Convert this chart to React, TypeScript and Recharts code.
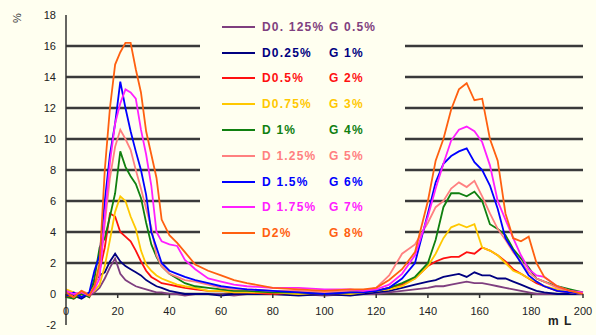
import React from 'react';
import { LineChart, Line, XAxis, YAxis, ReferenceLine } from 'recharts';

const BG = '#fffff0';

// sampling positions along the x axis (mL)
const volumes = [
  0, 3, 6, 9, 11, 13, 15, 17, 19, 21, 23, 25, 27, 29, 31, 33, 35, 37, 40, 43, 46, 50, 55, 60, 65, 70,
  80, 90, 100, 110, 115, 120, 125, 130, 135, 140, 143, 146, 149, 152, 155, 158, 161, 164, 167, 170,
  173, 176, 179, 182, 185, 190, 195, 200,
];

const d0125 = [
  0.0, -0.1, 0.0, -0.1, 0.1, 0.4, 1.0, 1.7, 2.3, 1.3, 0.9, 0.7, 0.5, 0.4, 0.3, 0.2, 0.1, 0.1, 0.0, 0.0, -0.1, 0.0, 0.0, 0.0, -0.1, 0.0,
  0.0, 0.0, -0.1, 0.0, 0.0, 0.0, 0.1, 0.2, 0.3, 0.4, 0.5, 0.5, 0.6, 0.7, 0.8, 0.7, 0.7, 0.6, 0.5, 0.4,
  0.3, 0.2, 0.1, 0.0, 0.0, 0.0, 0.0, 0.0,
];
const d025 = [
  -0.2, -0.1, -0.3, 0.0, 0.8, 1.2, 1.4, 2.1, 2.6, 2.1, 1.8, 1.6, 1.4, 1.2, 0.9, 0.7, 0.5, 0.4, 0.2, 0.1, 0.0, 0.0, 0.0, -0.1, 0.0, 0.0,
  0.0, -0.1, 0.0, -0.1, 0.0, 0.1, 0.2, 0.4, 0.6, 0.8, 0.9, 1.1, 1.2, 1.3, 1.1, 1.4, 1.2, 1.2, 1.0, 1.0,
  0.8, 0.6, 0.4, 0.2, 0.1, 0.0, 0.0, 0.0,
];
const d05 = [
  -0.1, -0.3, 0.1, -0.2, 0.5, 1.5, 3.0, 5.2, 5.0, 4.0, 3.7, 3.4, 2.8, 2.1, 1.5, 1.1, 0.9, 0.7, 0.6, 0.5, 0.4, 0.3, 0.2, 0.2, 0.1, 0.1,
  0.0, 0.1, 0.0, 0.1, 0.1, 0.2, 0.4, 0.6, 1.0, 1.8, 2.1, 2.3, 2.4, 2.4, 2.7, 2.6, 3.0, 2.8, 2.5, 2.1,
  1.6, 1.3, 1.0, 0.7, 0.5, 0.2, 0.1, 0.0,
];
const d075 = [
  0.3, 0.1, -0.1, 0.0, 0.2, 0.6, 1.8, 3.5, 5.3, 6.3, 6.0, 5.0, 4.2, 2.8, 1.9, 1.5, 1.2, 1.0, 0.8, 0.6, 0.5, 0.4, 0.2, 0.2, 0.1, 0.1,
  0.1, 0.0, 0.1, 0.0, 0.1, 0.2, 0.3, 0.5, 1.0, 1.8, 2.6, 3.6, 4.3, 4.5, 4.3, 4.5, 3.0, 2.8, 2.5, 2.0,
  1.5, 1.3, 1.0, 0.8, 0.5, 0.3, 0.1, 0.0,
];
const d1 = [
  -0.2, -0.3, 0.0, -0.2, 1.0, 3.0, 3.6, 5.0, 6.5, 9.2, 8.2, 7.6, 7.1, 6.2, 4.6, 3.2, 2.4, 1.8, 1.3, 1.0, 0.7, 0.5, 0.4, 0.3, 0.2, 0.2,
  0.1, 0.1, 0.0, 0.1, 0.1, 0.2, 0.4, 0.7, 1.1, 2.0, 3.5, 5.6, 6.5, 6.5, 6.3, 6.6, 6.0, 4.5, 4.2, 3.8,
  2.9, 2.3, 1.7, 1.0, 0.8, 0.5, 0.3, 0.1,
];
const d125 = [
  0.1, -0.2, 0.2, 0.0, 0.5, 1.5, 4.5, 7.5, 9.5, 10.6, 10.0, 9.3, 8.0, 6.8, 5.5, 4.3, 2.5, 1.8, 1.3, 1.1, 0.9, 0.8, 0.6, 0.4, 0.3, 0.3,
  0.2, 0.2, 0.1, 0.2, 0.2, 0.4, 1.2, 2.6, 3.2, 4.6, 5.6, 6.0, 6.8, 7.2, 6.9, 7.3, 6.3, 5.2, 4.2, 3.5,
  2.7, 2.1, 1.4, 1.0, 0.8, 0.4, 0.2, 0.0,
];
const d15 = [
  -0.1, 0.1, -0.2, 0.1, 1.5, 2.5, 6.0, 9.0, 11.0, 13.7, 12.0, 10.5, 9.2, 8.0, 6.4, 4.0, 3.0, 2.0, 1.5, 1.3, 1.1, 0.9, 0.7, 0.5, 0.4, 0.3,
  0.2, 0.1, 0.0, 0.1, 0.1, 0.2, 0.4, 1.0, 2.0, 5.2, 7.2, 8.4, 8.9, 9.2, 9.4, 8.5, 8.0, 7.0, 5.5, 3.6,
  2.8, 2.0, 1.2, 0.8, 0.5, 0.2, 0.1, 0.0,
];
const d175 = [
  0.2, 0.0, 0.1, -0.1, 0.3, 1.0, 5.0, 8.5, 11.0, 12.3, 13.2, 13.0, 12.6, 10.6, 9.0, 7.0, 4.0, 3.4, 3.2, 3.1, 2.2, 1.6, 1.0, 0.8, 0.6, 0.5,
  0.4, 0.4, 0.3, 0.3, 0.2, 0.3, 0.6, 1.3, 2.5, 5.0, 6.8, 8.4, 9.9, 10.6, 10.8, 10.5, 9.8, 8.3, 6.0, 4.8,
  3.6, 2.5, 1.6, 1.2, 1.1, 0.5, 0.2, 0.1,
];
const d2 = [
  0.1, -0.2, 0.2, -0.1, 0.5, 2.0, 8.0, 12.0, 14.8, 15.6, 16.2, 16.2, 14.5, 13.0, 10.5, 9.0, 7.5, 4.8, 3.8, 3.3, 2.7, 1.9, 1.5, 1.2, 0.9, 0.7,
  0.4, 0.3, 0.2, 0.3, 0.3, 0.4, 0.9, 1.6, 2.7, 6.0, 8.6, 10.0, 11.9, 13.2, 13.6, 12.5, 12.6, 10.0, 8.6, 5.2,
  3.6, 3.4, 3.7, 2.0, 1.1, 0.5, 0.2, 0.0,
];

const seriesNames = [
  ['D0. 125%', 'G 0.5%'],
  ['D0.25%', 'G 1%'],
  ['D0.5%', 'G 2%'],
  ['D0.75%', 'G 3%'],
  ['D 1%', 'G 4%'],
  ['D 1.25%', 'G 5%'],
  ['D 1.5%', 'G 6%'],
  ['D 1.75%', 'G 7%'],
  ['D2%', 'G 8%'],
];
const seriesColors = ['#7f3f7f', '#000080', '#ff1010', '#ffc800', '#108010', '#ff8080', '#0000ff', '#ff20ff', '#ff6010'];
const seriesValues = [d0125, d025, d05, d075, d1, d125, d15, d175, d2];

const xTicks = [0, 20, 40, 60, 80, 100, 120, 140, 160, 180, 200];
const yTicks = [-2, 0, 2, 4, 6, 8, 10, 12, 14, 16, 18];
const gridValues = [0, 2, 4, 6, 8, 10, 12, 14, 16];

const data = volumes.map((v, i) => {
  const row: Record<string, number> = { v };
  seriesValues.forEach((s, k) => {
    row['s' + k] = s[i];
  });
  return row;
});

const tickFont = { fontFamily: 'Liberation Sans, Arial, sans-serif', fontSize: 11, fill: '#222' };

function XTick(props: any) {
  const { x, y, payload } = props;
  // labels sit just under the zero line, not under the bottom of the plot
  return (
    <g>
      <line x1={x} x2={x} y1={y - 39} y2={y - 35} stroke="#333" strokeWidth={1.5} />
      <text x={x} y={y - 18} textAnchor="middle" {...tickFont}>
        {payload.value}
      </text>
    </g>
  );
}

function YTick(props: any) {
  const { x, y, payload } = props;
  return (
    <text x={x - 2} y={y + 4} textAnchor="end" {...tickFont}>
      {payload.value}
    </text>
  );
}

function LegendBox() {
  return (
    <div
      style={{
        position: 'absolute',
        left: 200,
        top: 14,
        width: 205,
        height: 228,
        background: BG,
        fontFamily: 'Liberation Sans, Arial, sans-serif',
        fontSize: 12,
        fontWeight: 'bold',
        letterSpacing: 1.2,
      }}
    >
      {seriesNames.map((n, i) => (
        <div
          key={i}
          style={{ position: 'absolute', top: i * 25.8, height: 25.8, left: 0, width: 205, display: 'flex', alignItems: 'center', color: seriesColors[i] }}
        >
          <div style={{ marginLeft: 22, width: 33, height: 2, background: seriesColors[i] }} />
          <span style={{ marginLeft: 7, width: 67, whiteSpace: 'nowrap' }}>{n[0]}</span>
          <span style={{ whiteSpace: 'nowrap' }}>{n[1]}</span>
        </div>
      ))}
    </div>
  );
}

export default function App() {
  return (
    <div style={{ position: 'absolute', left: 0, top: 0, width: 596, height: 335, background: BG, overflow: 'hidden' }}>
      <LineChart width={596} height={335} data={data} margin={{ top: 15, right: 13, bottom: 0, left: 0 }}>
        <XAxis
          dataKey="v"
          type="number"
          domain={[0, 200]}
          ticks={xTicks}
          axisLine={false}
          tickLine={false}
          height={10}
          tick={<XTick />}
          interval={0}
        />
        <YAxis
          type="number"
          domain={[-2, 18]}
          ticks={yTicks}
          width={66}
          axisLine={{ stroke: '#333', strokeWidth: 1.5 }}
          tickLine={false}
          tick={<YTick />}
          interval={0}
        />
        {gridValues.map((g) => (
          <ReferenceLine key={g} y={g} stroke="#3a3a3a" strokeWidth={2.5} />
        ))}
        {seriesValues.map((_, k) => (
          <Line
            key={k}
            dataKey={'s' + k}
            stroke={seriesColors[k]}
            strokeWidth={1.8}
            dot={false}
            type="linear"
            isAnimationActive={false}
          />
        ))}
      </LineChart>
      <LegendBox />
      <div style={{ position: 'absolute', left: 548, top: 314, fontFamily: 'Liberation Sans, Arial, sans-serif', fontSize: 12, fontWeight: 'bold', letterSpacing: 1, color: '#222' }}>
        m L
      </div>
      <div
        style={{
          position: 'absolute',
          left: 12,
          top: 12,
          fontFamily: 'Liberation Sans, Arial, sans-serif',
          fontSize: 11,
          color: '#333',
          transform: 'rotate(-90deg)',
        }}
      >
        %
      </div>
    </div>
  );
}
